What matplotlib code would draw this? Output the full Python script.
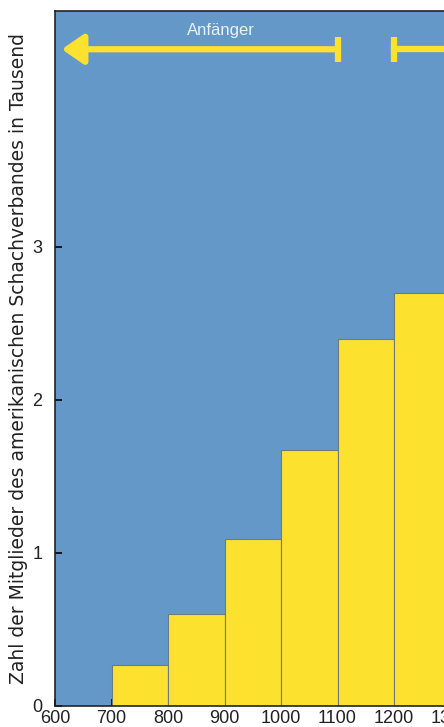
import matplotlib
matplotlib.use("Agg")
import matplotlib.pyplot as plt

# Elo-Klassen (linke Kante) und Mitglieder in Tausend
klassen = [700, 800, 900, 1000, 1100, 1200]
mitglieder = [0.27, 0.60, 1.09, 1.67, 2.40, 2.70]
x_ticks = [600, 700, 800, 900, 1000, 1100, 1200, 1300]
y_ticks = [0, 1, 2, 3]

blau = "#6498c8"
gelb = "#fde12f"

plt.rcParams["font.family"] = ["Liberation Sans", "DejaVu Sans"]

fig = plt.figure(figsize=(4.44, 7.27), dpi=100)
# Achse ragt rechts über den Bildrand hinaus (Ausschnitt wie im Original)
ax = fig.add_axes([55 / 444, 21 / 727, 452 / 444, 695 / 727])
ax.set_facecolor(blau)

ax.bar(klassen, mitglieder, width=100, align="edge", color=gelb,
       edgecolor="#6f7a80", linewidth=0.8, zorder=2)

ax.set_xlim(600, 1400)
ax.set_ylim(0, 4.54)
ax.set_xticks(x_ticks)
ax.set_yticks(y_ticks)
ax.tick_params(direction="in", length=5, width=1.2, labelsize=13, labelcolor="#222222")
ax.tick_params(axis="x", pad=3)
ax.tick_params(axis="y", pad=9)
for s in ax.spines.values():
    s.set_linewidth(1.2)
    s.set_color("#222222")
ax.set_ylabel("Zahl der Mitglieder des amerikanischen Schachverbandes in Tausend",
              fontsize=13.5, family="DejaVu Sans", color="#222222", labelpad=3)

# Anfänger-Pfeil oben
y_pfeil = 4.29
ax.annotate("", xy=(612, y_pfeil), xytext=(1100, y_pfeil),
            arrowprops=dict(arrowstyle="-|>,head_length=1.3,head_width=0.9",
                            color=gelb, lw=4.5, shrinkA=0, shrinkB=0), zorder=3)
ax.plot([1100, 1100], [y_pfeil - 0.08, y_pfeil + 0.08], color=gelb, lw=4.5,
        solid_capstyle="butt", zorder=3)
ax.text(893, 4.38, "Anfänger", color="#eef0f2", fontsize=12,
        ha="center", va="baseline", zorder=3)

# nächster Bereich ab 1200
ax.plot([1200, 1400], [y_pfeil, y_pfeil], color=gelb, lw=4.5, zorder=3)
ax.plot([1200, 1200], [y_pfeil - 0.08, y_pfeil + 0.08], color=gelb, lw=4.5,
        solid_capstyle="butt", zorder=3)

fig.savefig("out.png", dpi=100)
